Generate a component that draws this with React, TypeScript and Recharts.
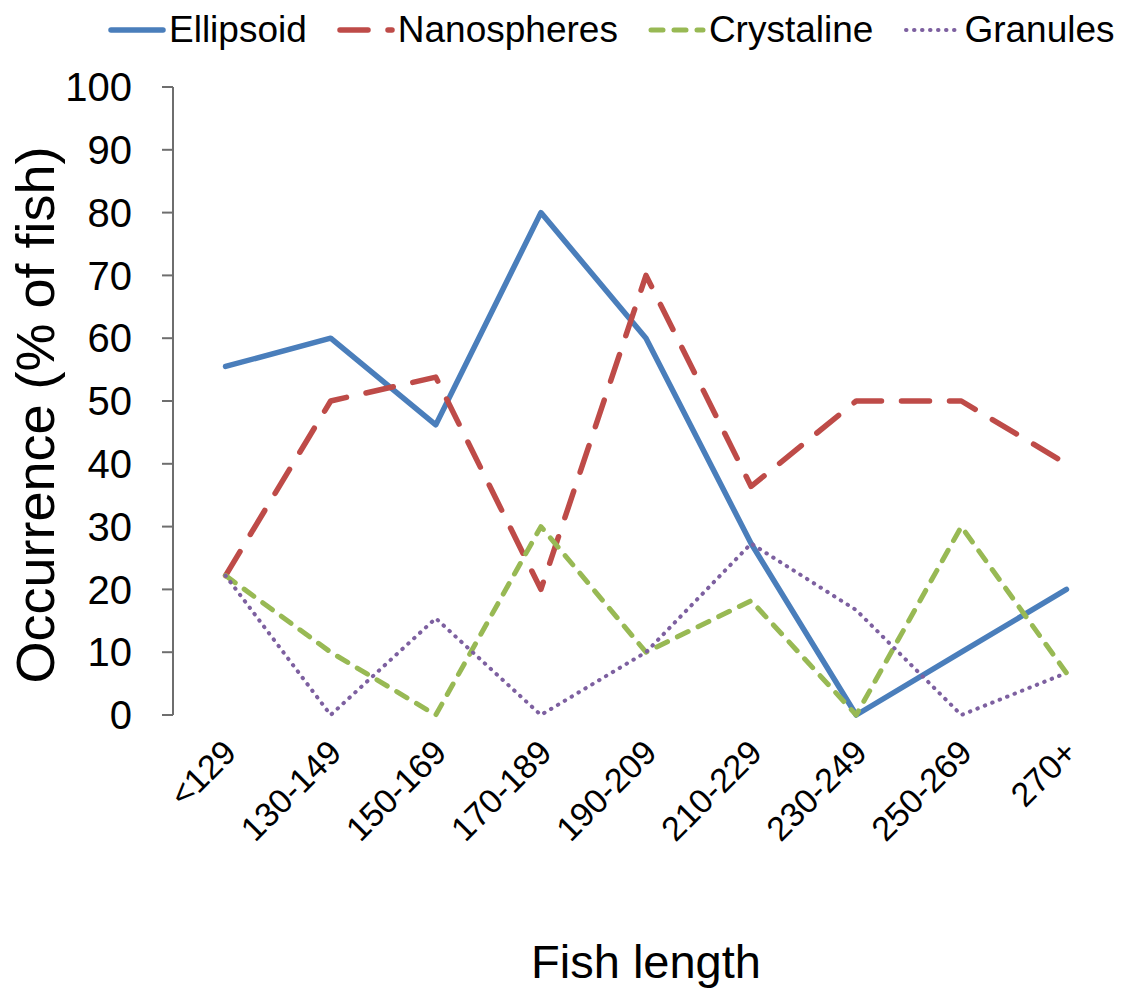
import { Line, LineChart, XAxis, YAxis } from "recharts";

const FONT = '"Liberation Sans", Arial, sans-serif';
const AXIS_COLOR = "#6e6e6e";

const categories = [
  "<129",
  "130-149",
  "150-169",
  "170-189",
  "190-209",
  "210-229",
  "230-249",
  "250-269",
  "270+",
];
const ellipsoid = [55.5, 60, 46.2, 80, 60, 27.3, 0, 10, 20];
const nanospheres = [22.2, 50, 53.8, 20, 70, 36.4, 50, 50, 40];
const crystaline = [22.2, 10, 0, 30, 10, 18.2, 0, 30, 6.7];
const granules = [22.2, 0, 15.4, 0, 10, 27.3, 16.7, 0, 6.7];
const yTicks = [0, 10, 20, 30, 40, 50, 60, 70, 80, 90, 100];

// boundaries between length classes carry the tick marks, class centres carry the labels
const boundaryTicks = categories.map((_, i) => i).concat(categories.length);
const centreTicks = categories.map((_, i) => i + 0.5);

const data = categories.map((range, i) => ({
  range,
  pos: i + 0.5,
  ellipsoid: ellipsoid[i],
  nanospheres: nanospheres[i],
  crystaline: crystaline[i],
  granules: granules[i],
}));

const series = [
  { key: "ellipsoid", name: "Ellipsoid", color: "#4A7EBB", width: 5.5, dash: undefined },
  { key: "nanospheres", name: "Nanospheres", color: "#BE4B48", width: 5.5, dash: "28 20" },
  { key: "crystaline", name: "Crystaline", color: "#98B954", width: 5, dash: "12 11" },
  { key: "granules", name: "Granules", color: "#7D60A0", width: 4, dash: "0.5 7.5" },
];

function RangeTick(props: any) {
  const { x, y, payload } = props;
  const label = categories[Math.floor(payload.value)];
  const tx = x + 4;
  const ty = y + 31;
  return (
    <text
      x={tx}
      y={ty}
      dy="0.36em"
      textAnchor="end"
      transform={`rotate(-45 ${tx} ${ty})`}
      fontFamily={FONT}
      fontSize={34}
      fill="#000"
    >
      {label}
    </text>
  );
}

function YTitle(props: any) {
  const { viewBox } = props;
  const cx = viewBox.x + 35;
  const cy = viewBox.y + viewBox.height / 2 + 14;
  return (
    <text
      x={cx}
      y={cy}
      dy="0.36em"
      textAnchor="middle"
      transform={`rotate(-90 ${cx} ${cy})`}
      fontFamily={FONT}
      fontSize={54}
      fill="#000"
    >
      Occurrence (% of fish)
    </text>
  );
}

function XTitle(props: any) {
  const { viewBox } = props;
  return (
    <text
      x={viewBox.x + viewBox.width / 2}
      y={viewBox.y + viewBox.height - 12}
      textAnchor="middle"
      fontFamily={FONT}
      fontSize={47}
      fill="#000"
    >
      Fish length
    </text>
  );
}

function LegendRow() {
  return (
    <div
      style={{
        position: "absolute",
        top: 8,
        left: 108,
        display: "flex",
        alignItems: "center",
        gap: 30,
        fontFamily: FONT,
        fontSize: 37,
        lineHeight: "44px",
        color: "#000",
      }}
    >
      {series.map((s) => (
        <div key={s.key} style={{ display: "flex", alignItems: "center" }}>
          <svg width={58} height={12} style={{ marginRight: 3 }}>
            <line
              x1={3}
              y1={6}
              x2={55}
              y2={6}
              stroke={s.color}
              strokeWidth={s.width}
              strokeDasharray={s.dash}
              strokeLinecap="round"
            />
          </svg>
          <span>{s.name}</span>
        </div>
      ))}
    </div>
  );
}

export default function App() {
  return (
    <div
      style={{
        position: "absolute",
        left: 0,
        top: 0,
        width: 1124,
        height: 990,
        background: "#fff",
      }}
    >
      <LineChart
        width={1124}
        height={990}
        data={data}
        margin={{ top: 87, right: 5, bottom: 0, left: 0 }}
      >
        <YAxis
          type="number"
          domain={[0, 100]}
          ticks={yTicks}
          interval={0}
          width={173}
          tickSize={11}
          tickMargin={30}
          axisLine={{ stroke: AXIS_COLOR, strokeWidth: 2 }}
          tickLine={{ stroke: AXIS_COLOR, strokeWidth: 2 }}
          tick={{ fontSize: 40, fill: "#000", fontFamily: FONT }}
          label={<YTitle />}
        />
        <XAxis
          xAxisId="grid"
          type="number"
          dataKey="pos"
          domain={[0, categories.length]}
          ticks={boundaryTicks}
          interval={0}
          allowDataOverflow
          height={0}
          tickSize={10}
          tick={false}
          axisLine={{ stroke: AXIS_COLOR, strokeWidth: 2 }}
          tickLine={{ stroke: AXIS_COLOR, strokeWidth: 2 }}
        />
        <XAxis
          xAxisId="labels"
          type="number"
          dataKey="pos"
          domain={[0, categories.length]}
          ticks={centreTicks}
          interval={0}
          allowDataOverflow
          height={275}
          axisLine={false}
          tickLine={false}
          tickSize={0}
          tickMargin={0}
          tick={<RangeTick />}
          label={<XTitle />}
        />
        {series.map((s) => (
          <Line
            key={s.key}
            xAxisId="grid"
            type="linear"
            dataKey={s.key}
            name={s.name}
            stroke={s.color}
            strokeWidth={s.width}
            strokeDasharray={s.dash}
            strokeLinecap="round"
            strokeLinejoin="round"
            dot={false}
            activeDot={false}
            isAnimationActive={false}
          />
        ))}
      </LineChart>
      <LegendRow />
    </div>
  );
}
